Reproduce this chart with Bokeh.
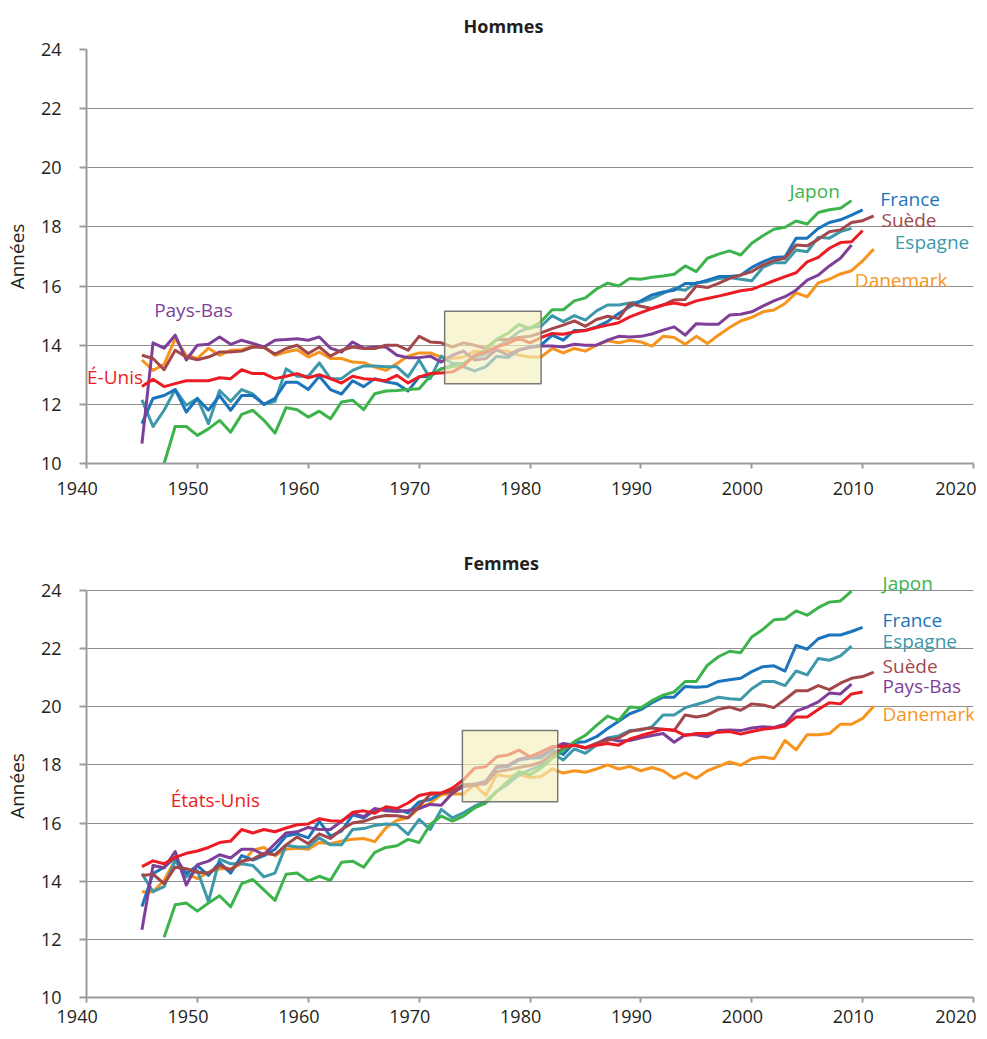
from bokeh.plotting import figure
from bokeh.layouts import column
from bokeh.models import (ColumnDataSource, LabelSet, BoxAnnotation, FixedTicker,
                          Range1d, Title)
from bokeh.core.properties import value
from bokeh.embed import file_html
from bokeh.resources import INLINE

FONT = "Open Sans"

# ---------------- data : Hommes (espérance de vie à 65 ans) ----------------
h_japon_start = 1947
h_japon = [10.0, 11.25, 11.25, 10.95, 11.17, 11.46, 11.06, 11.66, 11.8, 11.46,
           11.03, 11.89, 11.82, 11.57, 11.77, 11.51, 12.08, 12.14, 11.82, 12.36,
           12.45, 12.47, 12.5, 12.53, 12.95, 13.2, 13.27, 13.36, 13.66, 13.83,
           14.2, 14.4, 14.7, 14.56, 14.8, 15.2, 15.2, 15.5, 15.6, 15.9,
           16.1, 16.0, 16.26, 16.23, 16.3, 16.34, 16.4, 16.68, 16.49, 16.94,
           17.08, 17.19, 17.05, 17.45, 17.7, 17.92, 17.99, 18.2, 18.1, 18.49,
           18.58, 18.63, 18.89]
h_france_start = 1945
h_france = [11.35, 12.2, 12.3, 12.5, 11.74, 12.2, 11.8, 12.3, 11.8, 12.3,
            12.3, 12.0, 12.2, 12.75, 12.75, 12.5, 12.95, 12.5, 12.35, 12.8,
            12.6, 12.87, 12.76, 12.7, 12.45, 12.93, 12.95, 13.2, 13.32, 13.27,
            13.13, 13.27, 13.63, 13.58, 13.83, 13.94, 14.0, 14.34, 14.17, 14.5,
            14.5, 14.62, 14.8, 15.07, 15.3, 15.5, 15.7, 15.8, 15.86, 16.09,
            16.09, 16.2, 16.32, 16.32, 16.37, 16.63, 16.82, 16.97, 16.99, 17.62,
            17.62, 17.95, 18.15, 18.24, 18.4, 18.58]
h_espagne_start = 1945
h_espagne = [12.15, 11.25, 11.8, 12.5, 11.97, 12.2, 11.35, 12.47, 12.1, 12.5,
             12.35, 12.0, 12.1, 13.2, 12.95, 12.95, 13.4, 12.87, 12.87, 13.15,
             13.3, 13.3, 13.27, 13.27, 12.93, 13.5, 12.87, 13.63, 13.38, 13.38,
             13.6, 13.7, 13.94, 14.17, 14.45, 14.6, 14.64, 15.0, 14.8, 15.0,
             14.85, 15.16, 15.36, 15.36, 15.43, 15.47, 15.58, 15.75, 15.92, 15.86,
             16.11, 16.15, 16.26, 16.29, 16.23, 16.18, 16.63, 16.79, 16.79, 17.22,
             17.16, 17.65, 17.62, 17.84, 17.95]
h_usa_start = 1945
h_usa = [12.6, 12.85, 12.6, 12.7, 12.8, 12.8, 12.8, 12.9, 12.87, 13.17,
         13.04, 13.04, 12.87, 12.95, 13.04, 12.9, 13.0, 12.87, 12.72, 12.95,
         12.87, 12.84, 12.8, 12.98, 12.72, 12.93, 13.04, 13.06, 13.1, 13.3,
         13.66, 13.77, 13.94, 14.06, 14.23, 14.08, 14.26, 14.4, 14.37, 14.45,
         14.5, 14.6, 14.68, 14.76, 14.96, 15.1, 15.24, 15.36, 15.43, 15.36,
         15.5, 15.58, 15.66, 15.75, 15.84, 15.89, 16.03, 16.18, 16.32, 16.45,
         16.82, 16.97, 17.28, 17.47, 17.5, 17.88]
h_suede_start = 1945
h_suede = [13.66, 13.55, 13.17, 13.83, 13.6, 13.51, 13.6, 13.77, 13.77, 13.8,
           13.94, 13.92, 13.7, 13.89, 14.0, 13.72, 13.94, 13.63, 13.83, 13.94,
           13.89, 13.89, 14.0, 14.0, 13.83, 14.3, 14.11, 14.08, 13.94, 14.08,
           14.0, 13.89, 14.19, 14.19, 14.26, 14.3, 14.42, 14.56, 14.68, 14.82,
           14.64, 14.87, 14.98, 14.9, 15.41, 15.32, 15.24, 15.36, 15.53, 15.55,
           16.0, 15.95, 16.09, 16.26, 16.37, 16.49, 16.71, 16.86, 16.94, 17.39,
           17.36, 17.58, 17.84, 17.9, 18.15, 18.21, 18.37]
h_paysbas_start = 1945
h_paysbas = [10.67, 14.08, 13.9, 14.34, 13.5, 14.0, 14.03, 14.28, 14.03, 14.17,
             14.06, 13.94, 14.17, 14.19, 14.22, 14.17, 14.28, 13.9, 13.77, 14.11,
             13.9, 13.94, 13.94, 13.66, 13.58, 13.58, 13.63, 13.43, 13.66, 13.8,
             13.5, 13.55, 13.85, 13.66, 13.85, 13.92, 13.97, 13.97, 13.94, 14.03,
             14.0, 14.0, 14.17, 14.3, 14.28, 14.3, 14.38, 14.51, 14.62, 14.34,
             14.73, 14.71, 14.71, 15.02, 15.05, 15.13, 15.32, 15.5, 15.64, 15.86,
             16.2, 16.37, 16.68, 16.94, 17.39]
h_danemark_start = 1945
h_danemark = [13.5, 13.15, 13.35, 14.22, 13.66, 13.55, 13.9, 13.66, 13.83, 13.85,
              13.96, 13.96, 13.66, 13.77, 13.85, 13.6, 13.77, 13.55, 13.55, 13.43,
              13.41, 13.26, 13.15, 13.38, 13.63, 13.74, 13.74, 13.6, 13.55, 13.6,
              13.8, 13.77, 13.83, 13.8, 13.66, 13.6, 13.6, 13.89, 13.74, 13.89,
              13.8, 14.0, 14.15, 14.08, 14.17, 14.11, 13.97, 14.3, 14.26, 14.03,
              14.3, 14.06, 14.34, 14.6, 14.82, 14.94, 15.13, 15.19, 15.41, 15.77,
              15.64, 16.11, 16.23, 16.41, 16.52, 16.85, 17.25]

# ---------------- data : Femmes ----------------
f_japon_start = 1947
f_japon = [12.07, 13.19, 13.25, 12.97, 13.25, 13.5, 13.12, 13.92, 14.06, 13.7,
           13.34, 14.24, 14.28, 14.01, 14.17, 14.03, 14.65, 14.69, 14.48, 14.99,
           15.16, 15.22, 15.44, 15.33, 15.95, 16.24, 16.07, 16.24, 16.52, 16.69,
           17.09, 17.43, 17.77, 17.66, 17.89, 18.23, 18.51, 18.8, 19.02, 19.36,
           19.68, 19.53, 19.99, 19.97, 20.21, 20.4, 20.51, 20.87, 20.87, 21.43,
           21.72, 21.91, 21.86, 22.4, 22.66, 22.99, 23.02, 23.3, 23.15, 23.41,
           23.6, 23.64, 23.98]
f_france_start = 1945
f_france = [13.13, 14.26, 14.48, 14.82, 14.26, 14.54, 14.2, 14.65, 14.28, 14.88,
            14.73, 14.88, 15.1, 15.55, 15.63, 15.49, 16.06, 15.55, 15.72, 16.28,
            16.17, 16.45, 16.5, 16.47, 16.35, 16.73, 16.81, 17.03, 17.09, 17.32,
            17.34, 17.43, 17.91, 17.94, 18.17, 18.23, 18.25, 18.51, 18.36, 18.77,
            18.8, 18.97, 19.25, 19.5, 19.76, 19.9, 20.14, 20.33, 20.33, 20.7,
            20.67, 20.7, 20.87, 20.93, 20.98, 21.21, 21.38, 21.41, 21.23, 22.11,
            21.98, 22.34, 22.47, 22.47, 22.59, 22.73]
f_espagne_start = 1945
f_espagne = [14.26, 13.64, 13.81, 14.71, 14.15, 14.37, 13.3, 14.76, 14.6, 14.6,
             14.54, 14.15, 14.28, 15.24, 15.18, 15.18, 15.49, 15.25, 15.25, 15.78,
             15.81, 15.92, 15.97, 15.95, 15.61, 16.13, 15.78, 16.47, 16.18, 16.35,
             16.58, 16.75, 17.09, 17.34, 17.66, 17.83, 17.98, 18.4, 18.17, 18.55,
             18.4, 18.68, 18.93, 19.0, 19.18, 19.2, 19.31, 19.72, 19.72, 19.97,
             20.08, 20.19, 20.33, 20.28, 20.25, 20.62, 20.87, 20.87, 20.73, 21.23,
             21.1, 21.66, 21.6, 21.75, 22.09]
f_usa_start = 1945
f_usa = [14.5, 14.7, 14.6, 14.82, 14.96, 15.04, 15.16, 15.33, 15.38, 15.78,
         15.66, 15.78, 15.7, 15.83, 15.94, 15.97, 16.15, 16.08, 16.06, 16.37,
         16.42, 16.34, 16.56, 16.5, 16.69, 16.95, 17.03, 17.03, 17.2, 17.49,
         17.89, 17.94, 18.28, 18.34, 18.51, 18.28, 18.45, 18.63, 18.63, 18.68,
         18.59, 18.68, 18.74, 18.68, 18.89, 19.01, 19.12, 19.23, 19.2, 19.01,
         19.08, 19.08, 19.12, 19.15, 19.06, 19.15, 19.23, 19.27, 19.34, 19.65,
         19.65, 19.91, 20.14, 20.1, 20.44, 20.51]
f_suede_start = 1945
f_suede = [14.2, 14.24, 13.92, 14.48, 14.43, 14.31, 14.28, 14.54, 14.39, 14.69,
           14.76, 14.96, 14.91, 15.25, 15.52, 15.29, 15.63, 15.47, 15.78, 16.0,
           16.06, 16.19, 16.26, 16.25, 16.18, 16.58, 16.98, 17.03, 17.09, 17.32,
           17.32, 17.34, 17.77, 17.83, 17.91, 17.98, 18.09, 18.36, 18.55, 18.68,
           18.59, 18.74, 18.85, 18.93, 19.15, 19.23, 19.27, 19.23, 19.18, 19.72,
           19.65, 19.72, 19.91, 19.99, 19.88, 20.1, 20.06, 19.97, 20.25, 20.55,
           20.55, 20.73, 20.59, 20.81, 20.98, 21.04, 21.19]
f_paysbas_start = 1945
f_paysbas = [12.33, 14.54, 14.46, 15.02, 13.87, 14.57, 14.69, 14.91, 14.8, 15.1,
             15.1, 14.91, 15.29, 15.66, 15.7, 15.85, 15.78, 15.78, 16.06, 16.34,
             16.22, 16.5, 16.42, 16.4, 16.43, 16.5, 16.64, 16.61, 17.03, 17.26,
             17.3, 17.41, 17.94, 17.98, 18.2, 18.28, 18.32, 18.57, 18.74, 18.68,
             18.57, 18.74, 18.91, 18.82, 18.84, 18.93, 19.01, 19.08, 18.78, 19.04,
             19.04, 18.97, 19.18, 19.2, 19.18, 19.27, 19.31, 19.29, 19.4, 19.85,
             19.99, 20.17, 20.47, 20.44, 20.78]
f_danemark_start = 1945
f_danemark = [13.64, 13.64, 14.03, 14.73, 14.28, 14.09, 14.31, 14.43, 14.43, 14.6,
              15.07, 15.16, 14.88, 15.1, 15.13, 15.1, 15.33, 15.29, 15.38, 15.44,
              15.47, 15.36, 15.83, 16.1, 16.18, 16.52, 16.69, 16.98, 17.0, 17.0,
              17.32, 16.95, 17.66, 17.6, 17.66, 17.57, 17.6, 17.86, 17.72, 17.8,
              17.75, 17.86, 18.0, 17.86, 17.95, 17.8, 17.91, 17.8, 17.54, 17.73,
              17.54, 17.8, 17.95, 18.1, 17.99, 18.21, 18.27, 18.21, 18.84, 18.52,
              19.04, 19.04, 19.08, 19.4, 19.4, 19.6, 20.02]

# ---------------- labels / annotations ----------------
h_lab_text = ["Japon", "France", "Suède", "Espagne", "Danemark", "Pays-Bas", "É-Unis"]
h_lab_key = ["japon", "france", "suede", "espagne", "danemark", "paysbas", "usa"]
h_lab_x = [2003.4, 2011.6, 2011.7, 2012.9, 2009.3, 1946.1, 1940.05]
h_lab_y = [19.23, 18.94, 18.23, 17.5, 16.22, 15.18, 12.91]

f_lab_text = ["Japon", "France", "Espagne", "Suède", "Pays-Bas", "Danemark", "États-Unis"]
f_lab_key = ["japon", "france", "espagne", "suede", "paysbas", "danemark", "usa"]
f_lab_x = [2011.8, 2011.8, 2011.8, 2011.8, 2011.8, 2011.8, 1947.6]
f_lab_y = [24.25, 23.0, 22.26, 21.41, 20.71, 19.75, 16.79]

h_box = [1972.3, 1981.0, 12.7, 15.15]   # left, right, bottom, top
f_box = [1973.9, 1982.5, 16.73, 19.18]

x_ticks = [1940, 1950, 1960, 1970, 1980, 1990, 2000, 2010, 2020]
y_ticks = [10, 12, 14, 16, 18, 20, 22, 24]

COLORS = {
    "japon": "#3cb44b",
    "france": "#1c75bc",
    "suede": "#a2474a",
    "espagne": "#3d98aa",
    "danemark": "#f7941d",
    "paysbas": "#7f3f98",
    "usa": "#ed1c24",
}
ORDER = ["danemark", "espagne", "france", "paysbas", "suede", "japon", "usa"]

hommes = {
    "japon": (h_japon_start, h_japon), "france": (h_france_start, h_france),
    "espagne": (h_espagne_start, h_espagne), "usa": (h_usa_start, h_usa),
    "suede": (h_suede_start, h_suede), "paysbas": (h_paysbas_start, h_paysbas),
    "danemark": (h_danemark_start, h_danemark),
}
femmes = {
    "japon": (f_japon_start, f_japon), "france": (f_france_start, f_france),
    "espagne": (f_espagne_start, f_espagne), "usa": (f_usa_start, f_usa),
    "suede": (f_suede_start, f_suede), "paysbas": (f_paysbas_start, f_paysbas),
    "danemark": (f_danemark_start, f_danemark),
}

NBSP = "\u00a0"


def panel(title, series, lab_text, lab_key, lab_x, lab_y, box,
          frame_h, y_top, title_standoff, b_bottom, x_standoff):
    p = figure(frame_width=887, frame_height=frame_h, output_backend="svg",
               toolbar_location=None, x_range=Range1d(1940, 2020),
               y_range=Range1d(10, y_top), min_border_left=81, min_border_right=3,
               min_border_top=0, min_border_bottom=b_bottom,
               background_fill_color="white", border_fill_color="white")
    p.outline_line_color = None
    p.title = Title(text=title, align="left", offset=377,
                    text_font=FONT, text_font_size="18px",
                    text_font_style="bold", text_color="#231f20",
                    standoff=title_standoff)

    for key in ORDER:
        start, vals = series[key]
        xs = list(range(start, start + len(vals)))
        p.line(xs, vals, line_width=3, color=COLORS[key], line_join="round")

    src = ColumnDataSource(dict(x=lab_x, y=lab_y, text=lab_text,
                                color=[COLORS[k] for k in lab_key]))
    p.add_layout(LabelSet(x="x", y="y", text="text", source=src,
                          text_color="color", text_font=value(FONT),
                          text_font_size="19px", text_baseline="middle",
                          text_align="left"))

    p.add_layout(BoxAnnotation(left=box[0], right=box[1], bottom=box[2], top=box[3],
                               fill_color="#f2f0bd", fill_alpha=0.65,
                               line_color="#6a6a6a", line_width=1.5, line_alpha=0.9))

    # axes
    p.xaxis.ticker = FixedTicker(ticks=x_ticks)
    p.yaxis.ticker = FixedTicker(ticks=y_ticks)
    p.yaxis.bounds = (10, 24)
    overrides = {t: str(t) + NBSP * 4 for t in x_ticks}
    overrides[x_ticks[-1]] = str(x_ticks[-1])
    p.xaxis.major_label_overrides = overrides
    for ax in (p.xaxis[0], p.yaxis[0]):
        ax.axis_line_color = "#9b9b9b"
        ax.axis_line_width = 2
        ax.major_tick_line_color = "#9b9b9b"
        ax.major_tick_line_width = 2
        ax.major_tick_in = 0
        ax.minor_tick_out = 0
        ax.minor_tick_in = 0
        ax.major_label_text_font = FONT
        ax.major_label_text_font_size = "18px"
        ax.major_label_text_color = "#231f20"
    p.xaxis.major_tick_out = 5
    p.xaxis.major_label_standoff = x_standoff
    p.yaxis.major_tick_out = 7
    p.yaxis.major_label_standoff = 18
    p.yaxis.axis_label = "Années"
    p.yaxis.axis_label_text_font = FONT
    p.yaxis.axis_label_text_font_size = "19px"
    p.yaxis.axis_label_text_font_style = "normal"
    p.yaxis.axis_label_text_color = "#231f20"
    p.yaxis.axis_label_standoff = 8

    p.xgrid.grid_line_color = None
    p.ygrid.grid_line_color = "#8f8f8f"
    p.ygrid.grid_line_width = 1.2
    return p


p1 = panel("Hommes", hommes, h_lab_text, h_lab_key, h_lab_x, h_lab_y, h_box,
           frame_h=414, y_top=24, title_standoff=23, b_bottom=85, x_standoff=7)
p2 = panel("Femmes", femmes, f_lab_text, f_lab_key, f_lab_x, f_lab_y, f_box,
           frame_h=423, y_top=24.55, title_standoff=0, b_bottom=0, x_standoff=1)

layout = column(p1, p2, spacing=0)
open("out.html", "w").write(file_html(layout, INLINE))
